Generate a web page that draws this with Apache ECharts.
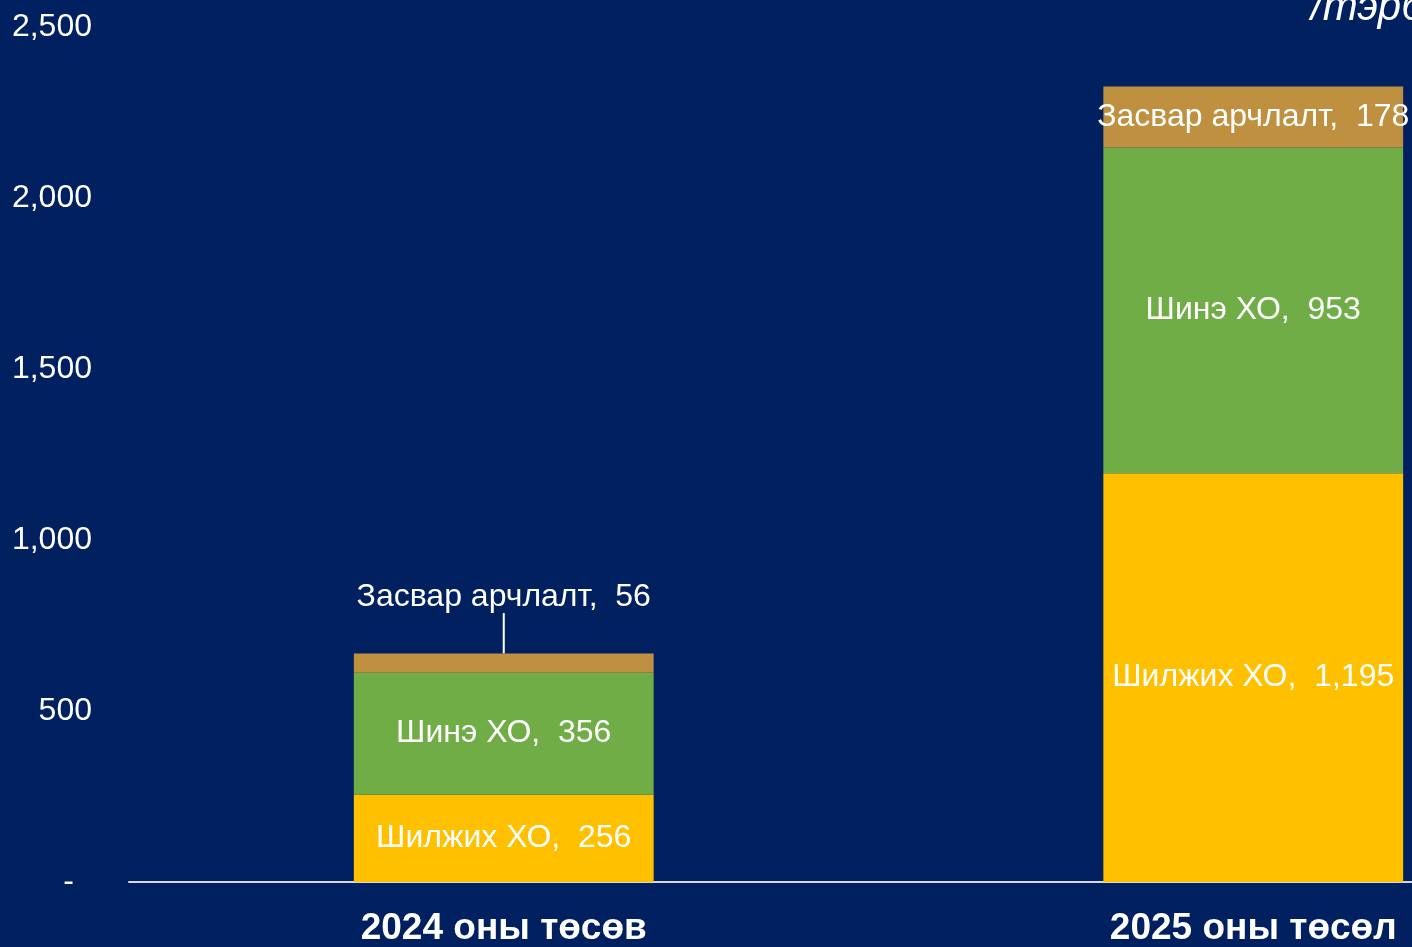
<!DOCTYPE html>
<html>
<head>
<meta charset="utf-8">
<script src="https://cdn.jsdelivr.net/npm/echarts@6/dist/echarts.min.js"></script>
<style>
  html, body { margin: 0; padding: 0; background: #002060; overflow: hidden; }
  /* график зургаас баруун тийш тасарсан тул илүү өргөн дээр зурна */
  #chart { width: 1628px; height: 947px; }
</style>
</head>
<body>
<div id="chart"></div>
<script>
// Ангилал ба цувааны утгууд (тэрбум төгрөг)
const categories = ['2024 оны төсөв', '2025 оны төсөл'];
const shiljikh   = [256, 1195];   // Шилжих ХО
const shine      = [356, 953];    // Шинэ ХО
const zasvar     = [56, 178];     // Засвар арчлалт
const yTicks     = [0, 500, 1000, 1500, 2000, 2500];

const FONT = '"Liberation Sans", Arial, sans-serif';

const fmt = v => v.toLocaleString('en-US');

function labelFor(name) {
  return {
    show: true,
    position: 'inside',
    color: '#ffffff',
    fontSize: 32,
    fontFamily: FONT,
    formatter: p => name + ',  ' + fmt(p.value)
  };
}

const chart = echarts.init(document.getElementById('chart'), null, { renderer: 'canvas' });

chart.setOption({
  backgroundColor: '#002060',
  animation: false,
  grid: { left: 129, right: 0, top: 27, bottom: 61, containLabel: false },
  graphic: [{
    type: 'text',
    left: 1311,
    top: -13,
    style: {
      text: '/тэрбум төгрөг/',
      fill: '#ffffff',
      font: 'italic 42px ' + FONT
    }
  }],
  xAxis: {
    type: 'category',
    data: categories,
    axisLine: { lineStyle: { color: '#D9D9D9', width: 2 } },
    axisTick: { show: false },
    axisLabel: {
      color: '#ffffff',
      fontSize: 37,
      fontWeight: 'bold',
      fontFamily: FONT,
      margin: 28
    }
  },
  yAxis: {
    type: 'value',
    min: yTicks[0],
    max: yTicks[yTicks.length - 1],
    interval: 500,
    axisLine: { show: false },
    axisTick: { show: false },
    splitLine: { show: false },
    axisLabel: {
      color: '#ffffff',
      fontSize: 32,
      fontFamily: FONT,
      margin: 37,
      formatter: v => v === 0 ? '{z|-}' : fmt(v),
      rich: { z: { fontSize: 32, fontFamily: FONT, color: '#ffffff', padding: [0, 18, 0, 0] } }
    }
  },
  series: [
    {
      name: 'Шилжих ХО',
      type: 'bar',
      stack: 'total',
      barWidth: '40%',
      itemStyle: { color: '#FFC000' },
      label: labelFor('Шилжих ХО'),
      data: shiljikh
    },
    {
      name: 'Шинэ ХО',
      type: 'bar',
      stack: 'total',
      itemStyle: { color: '#70AD47' },
      label: labelFor('Шинэ ХО'),
      data: shine
    },
    {
      name: 'Засвар арчлалт',
      type: 'bar',
      stack: 'total',
      itemStyle: { color: '#BF9040' },
      label: labelFor('Засвар арчлалт'),
      labelLine: { show: true, lineStyle: { color: '#ffffff', width: 2 } },
      // 2024 оны шошго баганаас дээш гарч, шугамаар холбогдоно
      labelLayout: p => p.dataIndex === 0 ? { dy: -66 } : {},
      data: zasvar
    }
  ]
});
</script>
</body>
</html>
